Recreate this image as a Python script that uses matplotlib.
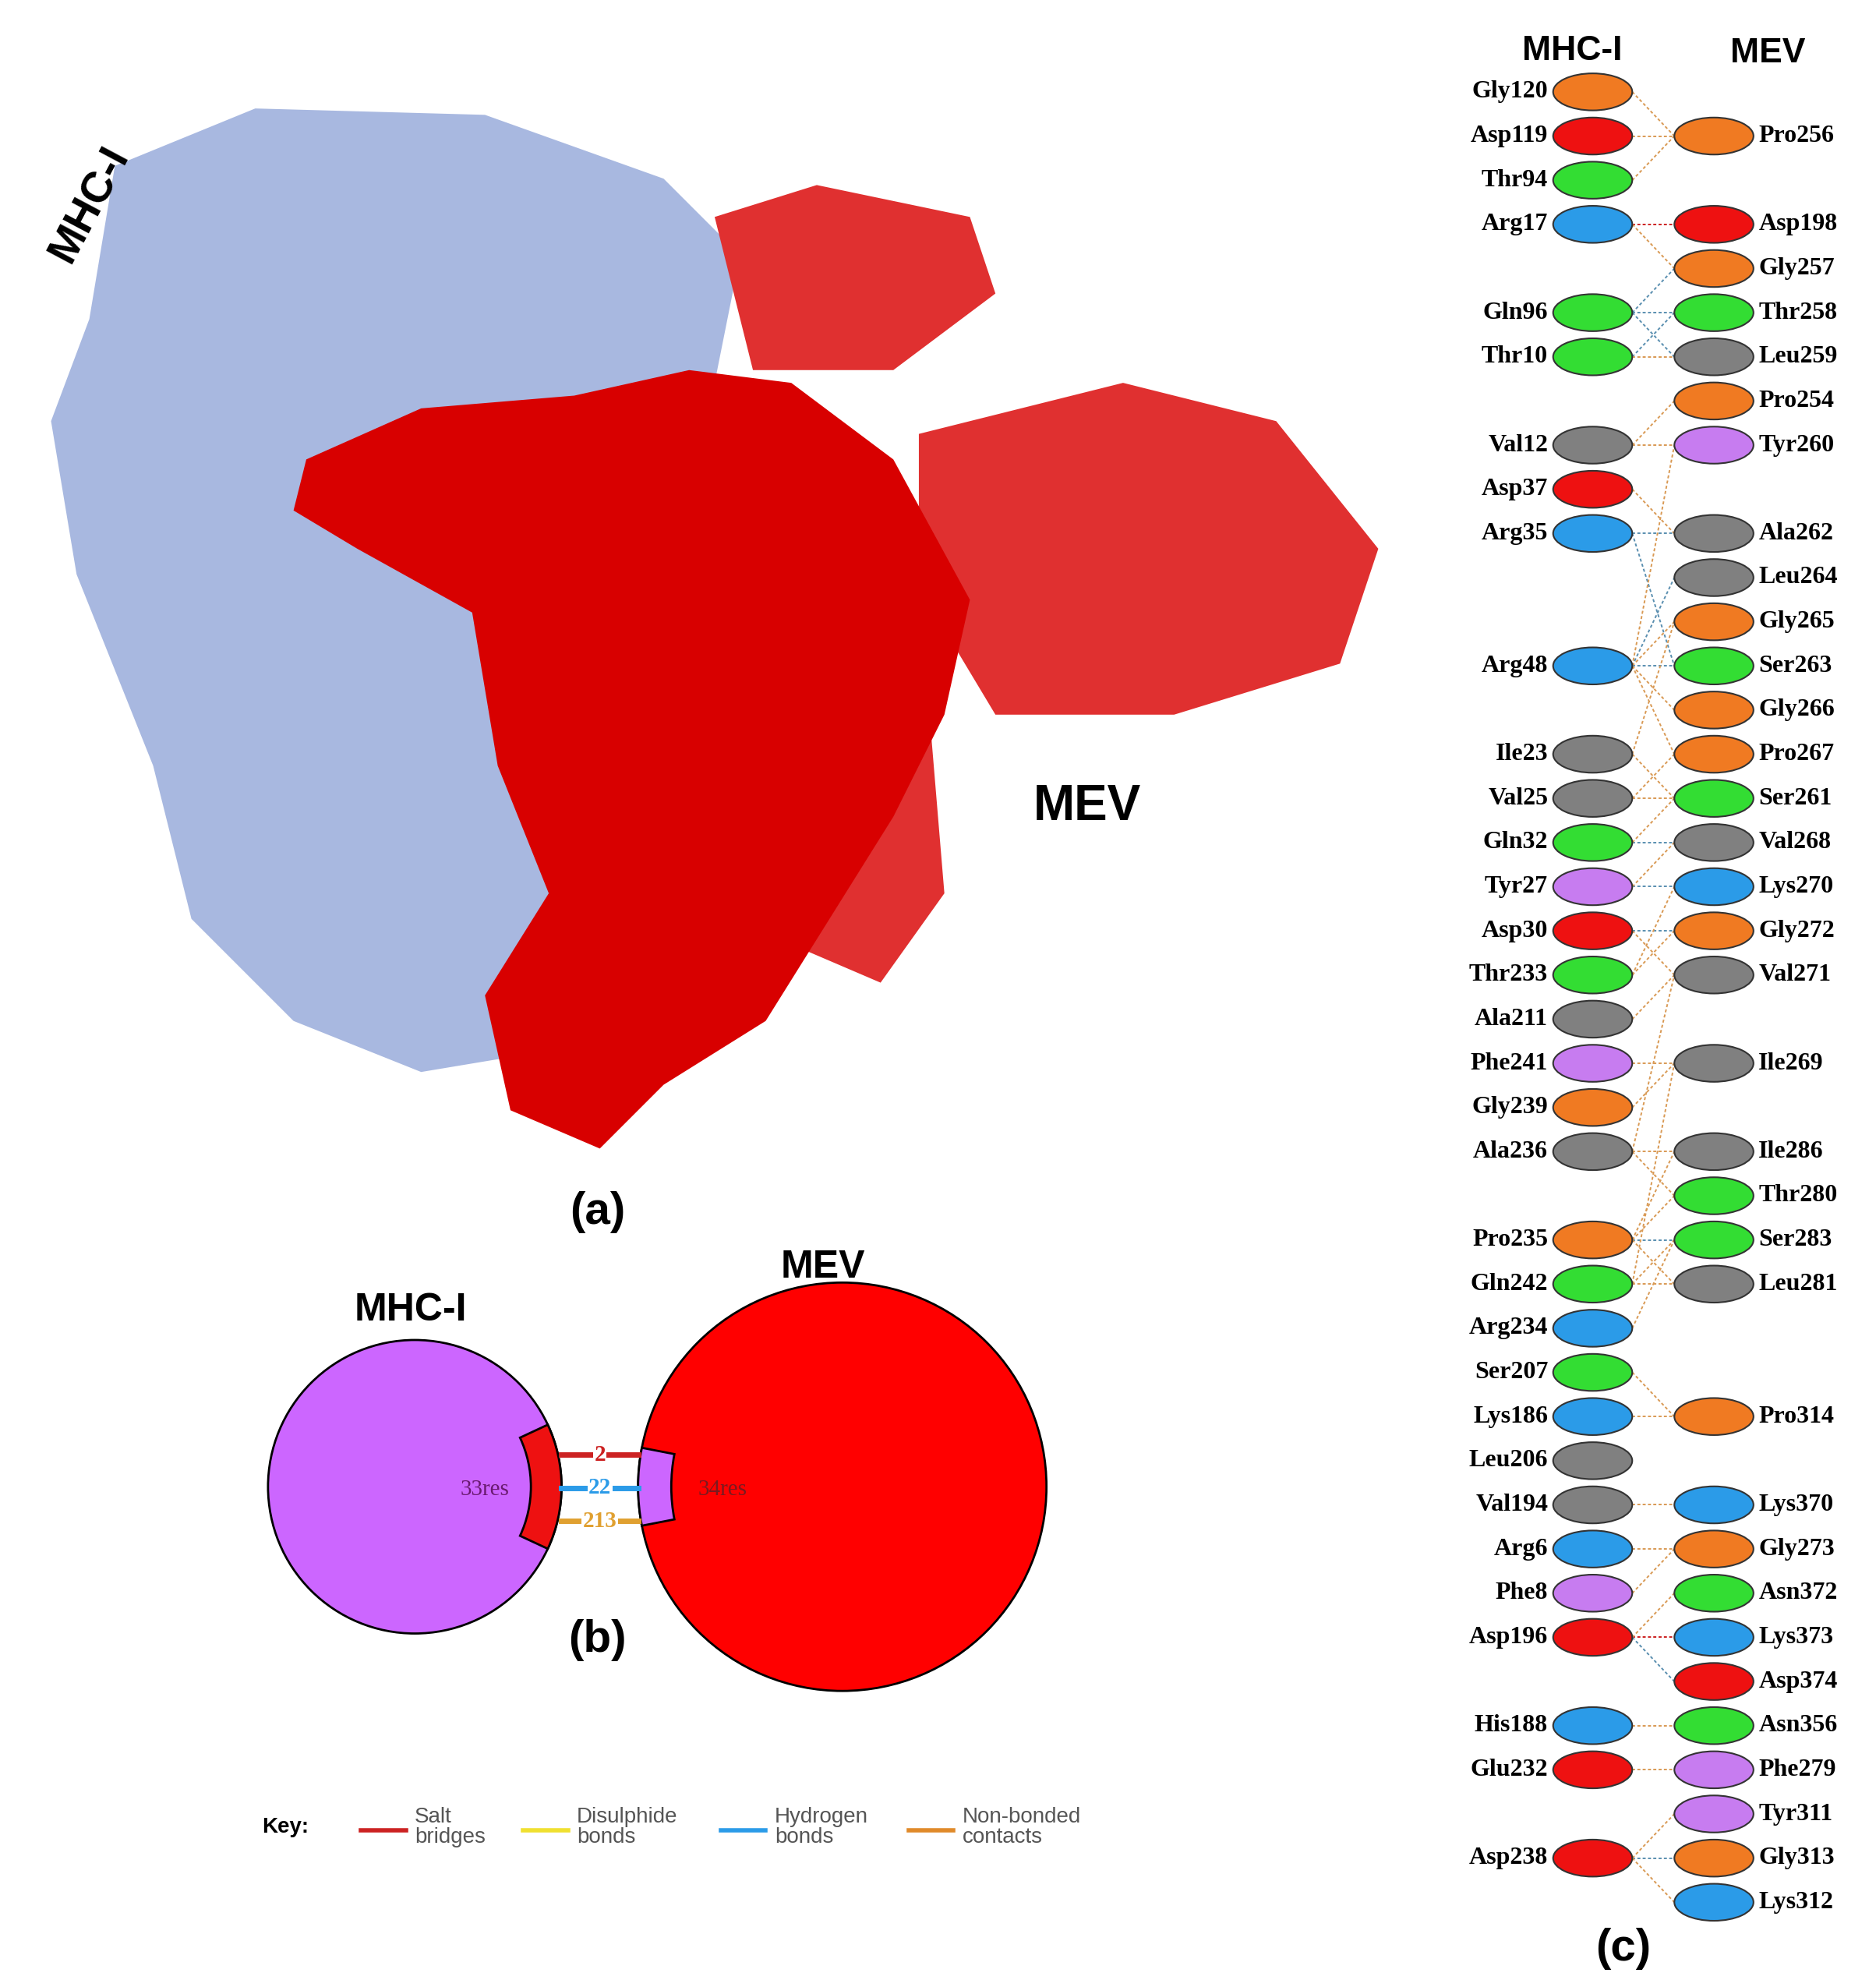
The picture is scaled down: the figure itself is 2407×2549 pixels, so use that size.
import matplotlib
matplotlib.use("Agg")
import matplotlib.pyplot as plt
from matplotlib.patches import Ellipse, Circle, Wedge, Polygon

COL = {'o': '#f07a22', 'r': '#ee1111', 'g': '#33dd33', 'b': '#2b9be8', 'k': '#808080', 'p': '#c77cf0'}
LINEC = {'salt': '#cc2222', 'hb': '#5a8fb0', 'nb': '#d99a55'}

left_res = [("Gly120",'o'),("Asp119",'r'),("Thr94",'g'),("Arg17",'b'),None,("Gln96",'g'),("Thr10",'g'),None,
            ("Val12",'k'),("Asp37",'r'),("Arg35",'b'),None,None,("Arg48",'b'),None,("Ile23",'k'),("Val25",'k'),
            ("Gln32",'g'),("Tyr27",'p'),("Asp30",'r'),("Thr233",'g'),("Ala211",'k'),("Phe241",'p'),("Gly239",'o'),
            ("Ala236",'k'),None,("Pro235",'o'),("Gln242",'g'),("Arg234",'b'),("Ser207",'g'),("Lys186",'b'),
            ("Leu206",'k'),("Val194",'k'),("Arg6",'b'),("Phe8",'p'),("Asp196",'r'),None,("His188",'b'),
            ("Glu232",'r'),None,("Asp238",'r'),None]
right_res = [None,("Pro256",'o'),None,("Asp198",'r'),("Gly257",'o'),("Thr258",'g'),("Leu259",'k'),("Pro254",'o'),
             ("Tyr260",'p'),None,("Ala262",'k'),("Leu264",'k'),("Gly265",'o'),("Ser263",'g'),("Gly266",'o'),
             ("Pro267",'o'),("Ser261",'g'),("Val268",'k'),("Lys270",'b'),("Gly272",'o'),("Val271",'k'),None,
             ("Ile269",'k'),None,("Ile286",'k'),("Thr280",'g'),("Ser283",'g'),("Leu281",'k'),None,None,
             ("Pro314",'o'),None,("Lys370",'b'),("Gly273",'o'),("Asn372",'g'),("Lys373",'b'),("Asp374",'r'),
             ("Asn356",'g'),("Phe279",'p'),("Tyr311",'p'),("Gly313",'o'),("Lys312",'b')]
contacts = [(0,1,'nb'),(1,1,'nb'),(2,1,'nb'),(3,3,'salt'),(3,4,'nb'),(5,4,'hb'),(5,5,'hb'),(5,6,'hb'),(6,5,'hb'),
            (6,6,'nb'),(8,7,'nb'),(8,8,'nb'),(10,10,'hb'),(10,13,'hb'),(13,11,'hb'),(13,12,'nb'),(13,13,'hb'),
            (13,14,'nb'),(13,8,'nb'),(13,15,'nb'),(15,16,'nb'),(15,12,'nb'),(16,15,'nb'),(16,16,'nb'),(17,17,'hb'),
            (17,16,'nb'),(18,18,'hb'),(18,17,'nb'),(19,19,'hb'),(19,20,'nb'),(20,19,'nb'),(20,18,'nb'),(21,20,'nb'),
            (22,22,'nb'),(24,24,'nb'),(24,25,'nb'),(26,26,'hb'),(26,25,'nb'),(26,27,'nb'),(27,26,'nb'),(27,27,'nb'),
            (28,26,'nb'),(24,20,'nb'),(29,30,'nb'),(30,30,'nb'),(32,32,'nb'),(33,33,'nb'),(34,33,'nb'),
            (35,35,'salt'),(35,34,'nb'),(35,36,'hb'),(37,37,'nb'),(38,38,'nb'),(40,40,'hb'),(40,39,'nb'),(40,41,'nb'),
            (26,24,'nb'),(27,22,'nb'),(9,10,'nb'),(23,22,'nb')]
bond_counts = [("2",'salt'),("22",'hb'),("213",'nb')]
res_counts = ["33res", "34res"]
key_items = [("Salt\nbridges",'#cc2222'),("Disulphide\nbonds",'#f0e030'),("Hydrogen\nbonds",'#2b9be8'),("Non-bonded\ncontacts",'#e08a2a')]

fig = plt.figure(figsize=(24.07, 25.49), dpi=100)
ax = fig.add_axes([0, 0, 1, 1])
ax.set_xlim(0, 1470); ax.set_ylim(1557, 0); ax.axis('off')
ser = dict(family='Liberation Serif', fontweight='bold')
san = dict(family='Liberation Sans', fontweight='bold')

# ---- (a) illustrative surfaces
blue = '#a8b8e0'; red = '#d80000'; red2 = '#e03030'
ax.add_patch(Polygon([(90,130),(200,85),(380,90),(520,140),(580,200),(560,300),(480,360),(440,520),(430,700),
                      (450,820),(330,840),(230,800),(150,720),(120,600),(60,450),(40,330),(70,250)], fc=blue, ec='none'))
ax.add_patch(Polygon([(560,170),(640,145),(760,170),(780,230),(700,290),(590,290)], fc=red2, ec='none'))
ax.add_patch(Polygon([(720,340),(880,300),(1000,330),(1080,430),(1050,520),(920,560),(780,560),(720,460)], fc=red2, ec='none'))
ax.add_patch(Polygon([(620,560),(730,580),(740,700),(690,770),(620,740)], fc=red2, ec='none'))
ax.add_patch(Polygon([(240,360),(330,320),(450,310),(540,290),(620,300),(700,360),(760,470),(740,560),(700,640),
                      (650,720),(600,800),(520,850),(470,900),(400,870),(380,780),(430,700),(390,600),(370,480),(280,430),(230,400)],
                     fc=red, ec='none'))
ax.text(70, 160, "MHC-I", rotation=62, fontsize=40, ha='center', va='center', **san)
ax.text(852, 632, "MEV", fontsize=46, ha='center', va='center', **san)
ax.text(468, 950, "(a)", fontsize=42, ha='center', va='center', **san)

# ---- (b)
cl, Rl = (325, 1165), 115
cr, Rr = (660, 1165), 160
ax.add_patch(Circle(cl, Rl, fc='#cc66ff', ec='black', lw=2))
ax.add_patch(Circle(cr, Rr, fc='#ff0000', ec='black', lw=2))
ax.add_patch(Wedge(cl, Rl, -25, 25, width=24, fc='#ee1111', ec='black', lw=2))
ax.add_patch(Wedge(cr, Rr, 169, 191, width=26, fc='#cc66ff', ec='black', lw=2))
ax.text(380, 1167, res_counts[0], fontsize=21, ha='center', va='center', color='#6a1a70', family='Liberation Serif')
ax.text(566, 1167, res_counts[1], fontsize=21, ha='center', va='center', color='#7a1a20', family='Liberation Serif')
for i, (lab, t) in enumerate(bond_counts):
    y = 1140 + 26*i
    c = {'salt':'#cc2222','hb':'#2b9be8','nb':'#e0a030'}[t]
    ax.plot([440, 500], [y, y], color=c, lw=5, zorder=1)
    ax.text(470, y, lab, fontsize=21, ha='center', va='center', color=c, zorder=3,
            bbox=dict(fc='white', ec='none', pad=1), **ser)
ax.text(322, 1027, "MHC-I", fontsize=36, ha='center', va='center', **san)
ax.text(645, 993, "MEV", fontsize=36, ha='center', va='center', **san)
ax.text(468, 1285, "(b)", fontsize=42, ha='center', va='center', **san)

ax.text(205, 1432, "Key:", fontsize=20, ha='left', va='center', **san)
kx = [283, 410, 565, 712]
for x, (lab, c) in zip(kx, key_items):
    ax.plot([x, x+35], [1434, 1434], color=c, lw=4)
    ax.text(x+42, 1432, lab, fontsize=20, ha='left', va='center', color='#555555', family='Liberation Sans', linespacing=1.0)

# ---- (c)
y0, dy = 72, 34.6
xl, xr = 1248, 1343
for a, b, t in contacts:
    ax.plot([xl+31, xr-31], [y0+a*dy, y0+b*dy], color=LINEC[t], lw=1.4, ls=(0, (2, 1.5)), zorder=1)
for col, x, ha, tx in [(left_res, xl, 'right', 1213), (right_res, xr, 'left', 1378)]:
    for i, r in enumerate(col):
        if r is None: continue
        y = y0 + i*dy
        ax.add_patch(Ellipse((x, y), 62, 29, fc=COL[r[1]], ec='#333333', lw=1.5, zorder=2))
        ax.text(tx, y, r[0], fontsize=23, ha=ha, va='center', **ser)
ax.text(1232, 40, "MHC-I", fontsize=32, ha='center', va='center', **san)
ax.text(1385, 42, "MEV", fontsize=32, ha='center', va='center', **san)
ax.text(1272, 1527, "(c)", fontsize=42, ha='center', va='center', **san)

fig.savefig("out.png", dpi=100)
